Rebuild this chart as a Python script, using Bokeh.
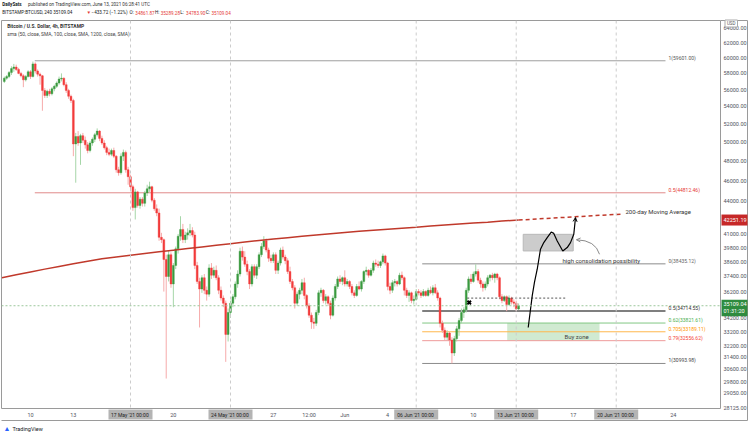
import numpy as np
import pandas as pd
from bokeh.plotting import figure
from bokeh.models import (Range1d, FixedTicker, NumeralTickFormatter, Span, Label,
                          Arrow, OpenHead, ColumnDataSource)
from bokeh.core.properties import value
from bokeh.embed import file_html
from bokeh.resources import INLINE

# ---------------- data (prices in thousands USD, 4h candles) ----------------
candle_start = "2021-05-08 04:00"
open_k = [
 57.0, 57.4, 57.6, 58.1, 58.6,
 58.8, 58.5, 58.0, 57.7, 57.2, 57.6,
 58.2, 57.6, 59.2, 58.3, 57.9, 57.7,
 55.9, 55.3, 55.8, 55.5, 56.1, 56.4,
 56.8, 57.3, 57.4, 56.6, 55.9, 55.2,
 54.7, 49.8, 50.6, 49.9, 50.7, 50.2,
 49.7, 49.1, 49.9, 50.3, 50.8, 51.2,
 50.4, 49.9, 49.4, 48.9, 48.7, 49.1,
 48.5, 47.1, 46.8, 48.5, 48.9, 47.1,
 46.4, 45.4, 43.4, 44.9, 43.6, 44.2,
 43.8, 44.8, 45.2, 45.4, 44.1, 43.3,
 42.9, 40.7, 40.5, 38.8, 37.4, 39.2,
 36.8, 38.3, 39.7, 40.8, 41.4, 40.5,
 40.9, 41.1, 41.3, 40.9, 38.3, 37.0,
 36.4, 37.3, 36.3, 36.0, 38.1, 37.5,
 37.9, 37.3, 36.3, 35.7, 35.3, 33.0,
 34.6, 35.3, 35.8, 36.8, 37.6, 39.5,
 39.0, 38.4, 37.8, 36.8, 38.2, 37.5,
 38.2, 39.2, 39.9, 40.4, 39.6, 38.9,
 38.7, 39.2, 37.9, 38.5, 39.6, 39.0,
 38.7, 37.8, 37.0, 36.5, 35.3, 36.0,
 36.3, 36.9, 35.9, 35.1, 34.4, 33.9,
 33.8, 34.6, 36.1, 36.3, 35.5, 35.8,
 35.3, 34.4, 35.7, 36.6, 37.2, 37.0,
 37.3, 36.8, 37.0, 36.6, 36.1, 35.9,
 36.6, 36.4, 37.0, 37.8, 37.9, 37.5,
 37.9, 38.5, 38.4, 38.3, 38.6, 39.1,
 38.5, 36.6, 36.3, 36.9, 37.0, 36.8,
 37.5, 37.3, 36.3, 35.9, 36.1, 35.5,
 35.6, 36.2, 36.1, 35.9, 36.2, 35.9,
 36.3, 36.1, 36.5, 36.1, 35.7, 33.8,
 33.3, 32.8, 33.1, 32.6, 31.7, 32.7,
 33.4, 34.0, 34.6, 34.8, 36.3, 37.2,
 37.0, 37.6, 37.8, 37.1, 36.8, 36.5,
 36.8, 37.3, 37.5, 37.3, 37.6, 37.3,
 35.8, 35.5, 35.8, 35.2, 35.7, 35.4,
 35.3, 34.86187,
]
high_k = [
 57.6, 57.8, 58.3, 58.9, 59.2,
 59.1, 58.7, 58.2, 57.9, 57.8, 58.4,
 58.4, 59.5, 59.4, 58.5, 58.1, 57.8,
 56.2, 56.0, 56.1, 56.3, 56.6, 57.0,
 57.6, 58.0, 57.5, 56.9, 56.1, 55.4,
 54.9, 51.0, 51.2, 50.9, 51.0, 50.6,
 50.0, 50.1, 50.5, 51.0, 51.5, 51.3,
 50.7, 50.2, 49.6, 49.3, 49.3, 49.4,
 48.6, 47.4, 48.8, 49.2, 49.1, 47.4,
 46.6, 45.6, 45.2, 45.0, 44.4, 44.4,
 45.0, 45.6, 45.9, 45.5, 44.3, 43.7,
 43.3, 41.1, 40.6, 39.2, 39.6, 39.4,
 38.5, 39.9, 41.0, 42.6, 41.9, 41.2,
 41.5, 41.9, 41.6, 41.2, 38.6, 37.3,
 37.5, 37.6, 36.6, 38.4, 38.5, 38.2,
 38.3, 37.5, 36.6, 35.9, 35.5, 34.9,
 35.5, 36.0, 37.0, 37.9, 39.8, 39.9,
 39.5, 38.7, 38.0, 38.4, 38.4, 38.4,
 39.4, 40.2, 40.8, 40.6, 39.8, 39.2,
 39.4, 39.4, 38.7, 39.8, 39.9, 39.2,
 38.9, 38.2, 37.2, 36.7, 36.2, 36.5,
 37.2, 37.3, 36.0, 35.3, 34.6, 34.2,
 34.8, 36.3, 36.5, 36.4, 36.0, 35.9,
 35.5, 35.9, 36.8, 37.4, 37.5, 37.4,
 37.9, 37.2, 37.1, 36.8, 36.3, 36.8,
 37.0, 37.1, 37.9, 38.2, 38.0, 38.1,
 38.7, 38.8, 38.7, 38.7, 39.3, 39.2,
 38.6, 36.9, 37.1, 37.2, 37.1, 37.7,
 37.8, 37.4, 36.5, 36.3, 36.2, 35.9,
 36.4, 36.4, 36.3, 36.4, 36.3, 36.5,
 36.6, 36.7, 36.8, 36.3, 35.8, 34.0,
 33.5, 33.3, 33.2, 32.8, 32.9, 33.6,
 34.2, 34.9, 35.0, 36.5, 37.4, 37.6,
 37.8, 38.4, 38.0, 37.3, 37.0, 37.0,
 37.5, 37.6, 37.7, 37.7, 37.7, 37.4,
 36.0, 35.9, 35.9, 35.9, 35.8, 35.6,
 35.5, 35.28928,
]
low_k = [
 56.8, 57.2, 57.4, 57.8, 58.2,
 58.3, 57.9, 57.5, 56.3, 57.0, 57.5,
 57.3, 57.5, 58.0, 57.6, 56.6, 53.5,
 55.0, 55.0, 55.2, 55.3, 55.8, 56.2,
 56.6, 57.0, 56.4, 55.6, 54.9, 54.4,
 48.5, 45.8, 49.6, 47.6, 49.9, 49.3,
 48.8, 48.9, 49.6, 50.0, 50.6, 50.1,
 49.7, 49.2, 48.6, 48.5, 48.5, 48.3,
 46.8, 46.5, 46.6, 48.0, 46.8, 45.6,
 45.1, 43.1, 42.3, 43.4, 43.3, 43.5,
 43.5, 44.5, 44.9, 43.9, 43.1, 42.6,
 40.4, 40.2, 36.2, 30.0, 37.0, 36.5,
 35.0, 38.0, 39.3, 40.4, 40.2, 40.2,
 40.5, 40.8, 40.7, 38.0, 36.8, 33.5,
 36.1, 36.0, 35.5, 35.8, 37.2, 37.3,
 37.1, 36.0, 35.5, 35.0, 31.1, 32.5,
 34.2, 35.0, 35.6, 36.5, 37.4, 38.7,
 38.2, 37.5, 36.4, 36.6, 37.3, 37.2,
 38.0, 39.0, 39.7, 39.4, 38.6, 38.5,
 38.5, 37.6, 37.6, 38.3, 38.8, 38.4,
 37.6, 36.8, 36.3, 34.9, 35.1, 35.6,
 36.0, 35.6, 34.9, 34.2, 33.4, 33.4,
 33.6, 34.4, 35.8, 35.3, 35.2, 35.1,
 34.1, 34.3, 35.5, 36.4, 36.8, 36.7,
 36.6, 36.6, 36.4, 35.9, 35.7, 35.8,
 36.3, 36.2, 36.8, 37.5, 37.3, 37.4,
 37.7, 38.2, 38.1, 38.1, 38.4, 38.3,
 36.3, 36.0, 36.1, 36.6, 36.6, 36.7,
 37.1, 35.9, 35.7, 35.4, 35.3, 35.2,
 35.5, 35.9, 35.7, 35.8, 35.8, 35.8,
 36.0, 35.9, 36.0, 35.5, 33.5, 33.1,
 32.6, 32.6, 32.2, 31.0, 31.5, 32.5,
 32.9, 33.8, 34.2, 34.6, 36.1, 36.8,
 36.9, 37.4, 36.9, 36.5, 36.2, 36.3,
 36.6, 37.0, 37.1, 36.9, 37.1, 35.6,
 35.3, 35.4, 34.7, 35.1, 35.2, 35.0,
 34.7, 34.7839,
]
close_k = [
 57.4, 57.6, 58.1, 58.6, 58.8,
 58.5, 58.0, 57.7, 57.2, 57.6, 58.2,
 57.6, 59.2, 58.3, 57.9, 57.7, 55.9,
 55.3, 55.8, 55.5, 56.1, 56.4, 56.8,
 57.3, 57.4, 56.6, 55.9, 55.2, 54.7,
 49.8, 50.6, 49.9, 50.7, 50.2, 49.7,
 49.1, 49.9, 50.3, 50.8, 51.2, 50.4,
 49.9, 49.4, 48.9, 48.7, 49.1, 48.5,
 47.1, 46.8, 48.5, 48.9, 47.1, 46.4,
 45.4, 43.4, 44.9, 43.6, 44.2, 43.8,
 44.8, 45.2, 45.4, 44.1, 43.3, 42.9,
 40.7, 40.5, 38.8, 37.4, 39.2, 36.8,
 38.3, 39.7, 40.8, 41.4, 40.5, 40.9,
 41.1, 41.3, 40.9, 38.3, 37.0, 36.4,
 37.3, 36.3, 36.0, 38.1, 37.5, 37.9,
 37.3, 36.3, 35.7, 35.3, 33.0, 34.6,
 35.3, 35.8, 36.8, 37.6, 39.5, 39.0,
 38.4, 37.8, 36.8, 38.2, 37.5, 38.2,
 39.2, 39.9, 40.4, 39.6, 38.9, 38.7,
 39.2, 37.9, 38.5, 39.6, 39.0, 38.7,
 37.8, 37.0, 36.5, 35.3, 36.0, 36.3,
 36.9, 35.9, 35.1, 34.4, 33.9, 33.8,
 34.6, 36.1, 36.3, 35.5, 35.8, 35.3,
 34.4, 35.7, 36.6, 37.2, 37.0, 37.3,
 36.8, 37.0, 36.6, 36.1, 35.9, 36.6,
 36.4, 37.0, 37.8, 37.9, 37.5, 37.9,
 38.5, 38.4, 38.3, 38.6, 39.1, 38.5,
 36.6, 36.3, 36.9, 37.0, 36.8, 37.5,
 37.3, 36.3, 35.9, 36.1, 35.5, 35.6,
 36.2, 36.1, 35.9, 36.2, 35.9, 36.3,
 36.1, 36.5, 36.1, 35.7, 33.8, 33.3,
 32.8, 33.1, 32.6, 31.7, 32.7, 33.4,
 34.0, 34.6, 34.8, 36.3, 37.2, 37.0,
 37.6, 37.8, 37.1, 36.8, 36.5, 36.8,
 37.3, 37.5, 37.3, 37.6, 37.3, 35.8,
 35.5, 35.8, 35.2, 35.7, 35.4, 35.3,
 34.86187, 35.10904,
]

# 200-day SMA (day = day of May; June 1 = 32)
ma_days = [8, 9, 10, 11, 12, 13, 14, 15, 16, 17, 18, 19, 20, 21, 22, 23, 24, 25, 26, 27,
           28, 29, 30, 31, 32, 33, 34, 35, 36, 37, 38, 39, 40, 41, 42, 43, 44.17]
ma_vals = [37300, 37540, 37770, 38000, 38220, 38440, 38650, 38860, 39010, 39160, 39310,
           39450, 39590, 39730, 39870, 40010, 40150, 40290, 40420, 40550, 40670, 40790,
           40910, 41020, 41130, 41230, 41330, 41420, 41510, 41600, 41700, 41790, 41880,
           41970, 42060, 42160, 42251.19]
ma_proj_days = [44.17, 51.43]
ma_proj_vals = [42251.19, 42800]

fib1_levels = [59601.00, 44812.46]
fib1_labels = ["1(59601.00)", "0.5(44812.46)"]
fib1_span = [10.30, 54.45]
fib2_levels = [38435.12, 34714.55, 33821.61, 33189.11, 32556.62, 30993.98]
fib2_labels = ["0(38435.12)", "0.5(34714.55)", "0.62(33821.61)", "0.705(33189.11)",
               "0.79(32556.62)", "1(30993.98)"]
fib2_span = [37.42, 54.45]
fib_label_day = 54.66

path_days = [44.84, 45.12, 45.28, 45.47, 45.70, 45.93, 46.17, 46.45, 46.63, 46.87,
             47.26, 47.57, 47.80, 48.03, 48.15]
path_prices = [33500, 35870, 36940, 37990, 39670, 40240, 40680, 41170, 41050, 40380,
               39520, 39810, 40240, 40970, 42470]

consol_box = dict(left=44.49, right=47.99, bottom=39521, top=40967)
buy_box = dict(left=43.37, right=49.83, bottom=32556.62, top=33821.61)
curve = dict(x0=49.83, y0=39240, cx=49.55, cy=40440, x1=48.22, y1=40490)
dotted_seg = dict(x=[40.57, 47.57], y=[35694, 35694])
cross_pt = dict(x=[40.71], y=[35350])
last_price = 35109.04
ma_last = 42251.19

price_ticks = [64000, 62000, 60000, 58000, 56000, 54000, 52000, 50000, 48000, 46000, 44000,
               41000, 39800, 38600, 37400, 36200, 34200, 33200, 32200, 31400, 30600, 29800,
               29050, 28125]
time_ticks = [10, 13, 20, 27, 29.5, 32, 35, 41, 48, 55]
time_tick_labels = ["10", "13", "20", "27", "12:00", "Jun", "4", "10", "17", "24"]
marked_days = [17, 24, 37, 44, 51]
marked_labels = ["17 May '21  00:00", "24 May '21  00:00", "06 Jun '21  00:00",
                 "13 Jun '21  00:00", "20 Jun '21  00:00"]

# ---------------- build ----------------
n = len(open_k)
assert n == len(high_k) == len(low_k) == len(close_k)
ts = pd.date_range(candle_start, periods=n, freq="4h")
t = ((ts - pd.Timestamp("2021-04-30")) / pd.Timedelta(days=1)).to_numpy()
o = np.array(open_k) * 1000
h = np.array(high_k) * 1000
lo = np.array(low_k) * 1000
c = np.array(close_k) * 1000
up = c >= o
RED, GREEN = "#f23b3b", "#3a9a3f"
RED_W, GREEN_W = "#f6aaaa", "#a6d6a8"
src = ColumnDataSource(dict(
    t=t, top=np.maximum(o, c), bot=np.minimum(o, c), h=h, l=lo,
    body=[GREEN if u else RED for u in up],
    wick=[GREEN_W if u else RED_W for u in up]))

# frame geometry (page pixels): x 1..720, y 20..408
FW, FH = 719, 388
X0, X1 = 7.97, 58.30
PT, PB = 65019, 28120
KK = FH / np.log(PT / PB)


def dx(xp):      # page x -> day
    return X0 + (xp - 1) * (X1 - X0) / FW


def dy(yp):      # page y -> price
    return PT * np.exp(-(yp - 20) / KK)


def ypix(price):
    return 20 + KK * np.log(PT / price)


FONT = "Roboto"
p = figure(frame_width=FW, frame_height=FH, x_range=Range1d(X0, X1),
           y_range=Range1d(PB, PT), y_axis_type="log", y_axis_location="right",
           output_backend="svg", toolbar_location=None,
           min_border_left=1, min_border_right=30, min_border_top=20, min_border_bottom=26,
           outline_line_color="#9a9a9a", background_fill_color="white",
           border_fill_color="white")
p.grid.visible = False

yax = p.yaxis[0]
yax.ticker = FixedTicker(ticks=price_ticks)
yax.formatter = NumeralTickFormatter(format="0.00")
xax = p.xaxis[0]
xax.ticker = FixedTicker(ticks=time_ticks)
xax.major_label_overrides = dict(zip(time_ticks, time_tick_labels))
for ax in (xax, yax):
    ax.axis_line_color = None
    ax.major_tick_line_color = None
    ax.minor_tick_line_color = None
    ax.major_tick_out = 0
    ax.major_tick_in = 0
    ax.minor_tick_out = 0
    ax.minor_tick_in = 0
    ax.major_label_text_font = FONT
    ax.major_label_text_font_size = "5.5px"
    ax.major_label_text_color = "#50535e"
xax.major_label_standoff = 3
yax.major_label_standoff = 3

# vertical marker lines and current price line
for d in marked_days:
    p.add_layout(Span(location=d, dimension="height", line_color="#cccccc",
                      line_dash="3 3", line_width=1))
p.add_layout(Span(location=last_price, dimension="width", line_color="#9cc79c",
                  line_dash="2 2", line_width=1))

# zones
p.quad(left=[buy_box["left"]], right=[buy_box["right"]], bottom=[buy_box["bottom"]],
       top=[buy_box["top"]], fill_color="#c8e6c9", fill_alpha=0.85, line_color=None)
p.quad(left=[consol_box["left"]], right=[consol_box["right"]], bottom=[consol_box["bottom"]],
       top=[consol_box["top"]], fill_color="#c6c6c6", fill_alpha=0.9, line_color="#b8b8b8")

# fib lines
fib1_colors = ["#9e9e9e", "#e08a8a"]
fib1_text = ["#555555", "#e53935"]
for lev, lab_, lc, tc in zip(fib1_levels, fib1_labels, fib1_colors, fib1_text):
    p.line(fib1_span, [lev, lev], line_color=lc, line_width=1)
    p.add_layout(Label(x=fib_label_day, y=lev, text=lab_, text_font=FONT,
                       text_font_size="5px", text_color=tc, text_baseline="middle",
                       y_offset=3))
fib2_colors = ["#8c8c8c", "#555555", "#81c784", "#ffb74d", "#ef9a9a", "#8c8c8c"]
fib2_widths = [1, 1.3, 1, 1, 1, 1]
fib2_text = ["#666666", "#333333", "#4caf50", "#ff9800", "#f44336", "#444444"]
for lev, lab_, lc, lw, tc in zip(fib2_levels, fib2_labels, fib2_colors, fib2_widths, fib2_text):
    p.line(fib2_span, [lev, lev], line_color=lc, line_width=lw)
    p.add_layout(Label(x=fib_label_day, y=lev, text=lab_, text_font=FONT,
                       text_font_size="5px", text_color=tc, text_baseline="middle",
                       y_offset=3))

# candles
p.segment(x0="t", y0="h", x1="t", y1="l", source=src, line_color="wick", line_width=1)
p.vbar(x="t", width=0.13, top="top", bottom="bot", source=src, fill_color="body",
       line_color="body", line_width=0.4)

# moving average
p.line(ma_days, ma_vals, line_color="#c0392b", line_width=1.5)
p.line(ma_proj_days, ma_proj_vals, line_color="#c0392b", line_width=1.5, line_dash="4 3")

# user drawings
p.line(dotted_seg["x"], dotted_seg["y"], line_color="#555555", line_width=1, line_dash="2 2")
p.scatter(cross_pt["x"], cross_pt["y"], marker="x", size=5, line_width=2, line_color="black")
p.line(path_days, path_prices, line_color="black", line_width=1.2)
p.add_layout(Arrow(end=OpenHead(size=4, line_color="black", line_width=1),
                   x_start=path_days[-2], y_start=path_prices[-2],
                   x_end=path_days[-1], y_end=path_prices[-1],
                   line_color=None))
p.quadratic(x0=[curve["x0"]], y0=[curve["y0"]], x1=[curve["x1"]], y1=[curve["y1"]],
            cx=[curve["cx"]], cy=[curve["cy"]], line_color="#8a8a8a", line_width=1)
p.add_layout(Arrow(end=OpenHead(size=4, line_color="#8a8a8a", line_width=1),
                   x_start=curve["x1"] + 0.2, y_start=curve["y1"] - 15,
                   x_end=curve["x1"], y_end=curve["y1"], line_color=None))


def lab(x, y, text, size="5.5px", color="#131722", bold=False, align="left"):
    p.add_layout(Label(x=x, y=y, text=text, text_font=FONT, text_font_size=size,
                       text_color=color, text_font_style="bold" if bold else "normal",
                       text_align=align, text_baseline="middle"))


lab(51.65, 43050, "200-day Moving Average", size="6px", color="#333333")
lab(47.24, 38730, "high consolidation possibility", size="6px", color="#333333")
lab(47.38, 32880, "Buy zone", size="6px", color="#444444")
# legend inside frame
lab(dx(6.7), dy(25), "Bitcoin / U.S. Dollar, 4h, BITSTAMP", size="4.9px", bold=True,
    color="#333333")
lab(dx(6.7), dy(33), "sma (50, close, SMA, 100, close, SMA, 1200, close, SMA)", size="4.9px",
    color="#444444")


# ---- texts and boxes outside the plot frame (overlay level glyphs) ----
def otext(xp, yp, text, size="5.5px", color="#131722", bold=False, align="left"):
    p.text(x=[dx(xp)], y=[dy(yp)], text=[text], text_font=value(FONT), text_font_size=size,
           text_color=color, text_font_style="bold" if bold else "normal",
           text_align=align, text_baseline="middle", level="overlay")


def obox(x0p, x1p, y0p, y1p, fill, line=None):
    p.quad(left=[dx(x0p)], right=[dx(x1p)], top=[dy(y0p)], bottom=[dy(y1p)],
           fill_color=fill, line_color=line, level="overlay")


HS = 4.6
CW = 0.5 * HS
otext(1.7, 4, "DailySats", size=f"{HS}px", bold=True)
otext(27.5, 4, "published on TradingView.com, June 13, 2021 06:28:41 UTC",
      size=f"{HS}px", color="#333333")
hdr = [(1.7, "BITSTAMP:BTCUSD, 240  35109.04", "#131722"), (86, "\u25bc", "#e53935"),
       (91, "\u2212433.72 (\u22121.22%)", "#131722"), (128.5, "O:", "#131722"),
       (133, "34861.87", "#e53935"), (154, "H:", "#131722"), (158.5, "35289.28", "#e53935"),
       (179.5, "L:", "#131722"), (183.5, "34783.90", "#e53935"), (204.5, "C:", "#131722"),
       (209.5, "35109.04", "#e53935")]
x_cur = 0
for ref_x, txt, col in hdr:
    xp = max(ref_x, x_cur)
    otext(xp, 12, txt, size=f"{HS}px", color=col)
    x_cur = xp + len(txt) * CW + 1.2

# chart box edges beyond the frame
p.segment(x0=[dx(720), dx(747), dx(1)], y0=[dy(20), dy(20), dy(420)],
          x1=[dx(747), dx(747), dx(747)], y1=[dy(20), dy(420), dy(420)],
          line_color="#9a9a9a", line_width=1, level="overlay")

# price-axis markers
obox(724.5, 737, 19.5, 26.5, "white", "#aaaaaa")
otext(730.7, 23, "USD", size="4.5px", color="#555555", align="center")
ym = ypix(ma_last)
obox(721, 747, ym - 5.5, ym + 5.5, "#c62828")
otext(723, ym, "42251.19", color="white")
yl = ypix(last_price)
obox(721, 747, yl - 6, yl + 10.5, "#2e8b3e")
otext(723, yl - 1.5, "35109.04", color="white")
otext(723, yl + 5.5, "01:31:20", color="white")

# highlighted time-axis labels
for d, txt in zip(marked_days, marked_labels):
    xc = 1 + (d - X0) * FW / (X1 - X0)
    obox(xc - 22, xc + 22, 409, 419, "#b4b4b4")
    otext(xc, 414, txt, size="5px", color="#1e1e1e", align="center")

# footer
otext(3, 428, "\u25b2", size="7px", color="#2962ff")
otext(12, 428, "TradingView", size="5.5px", color="#131722")

open("out.html", "w").write(file_html(p, INLINE))
